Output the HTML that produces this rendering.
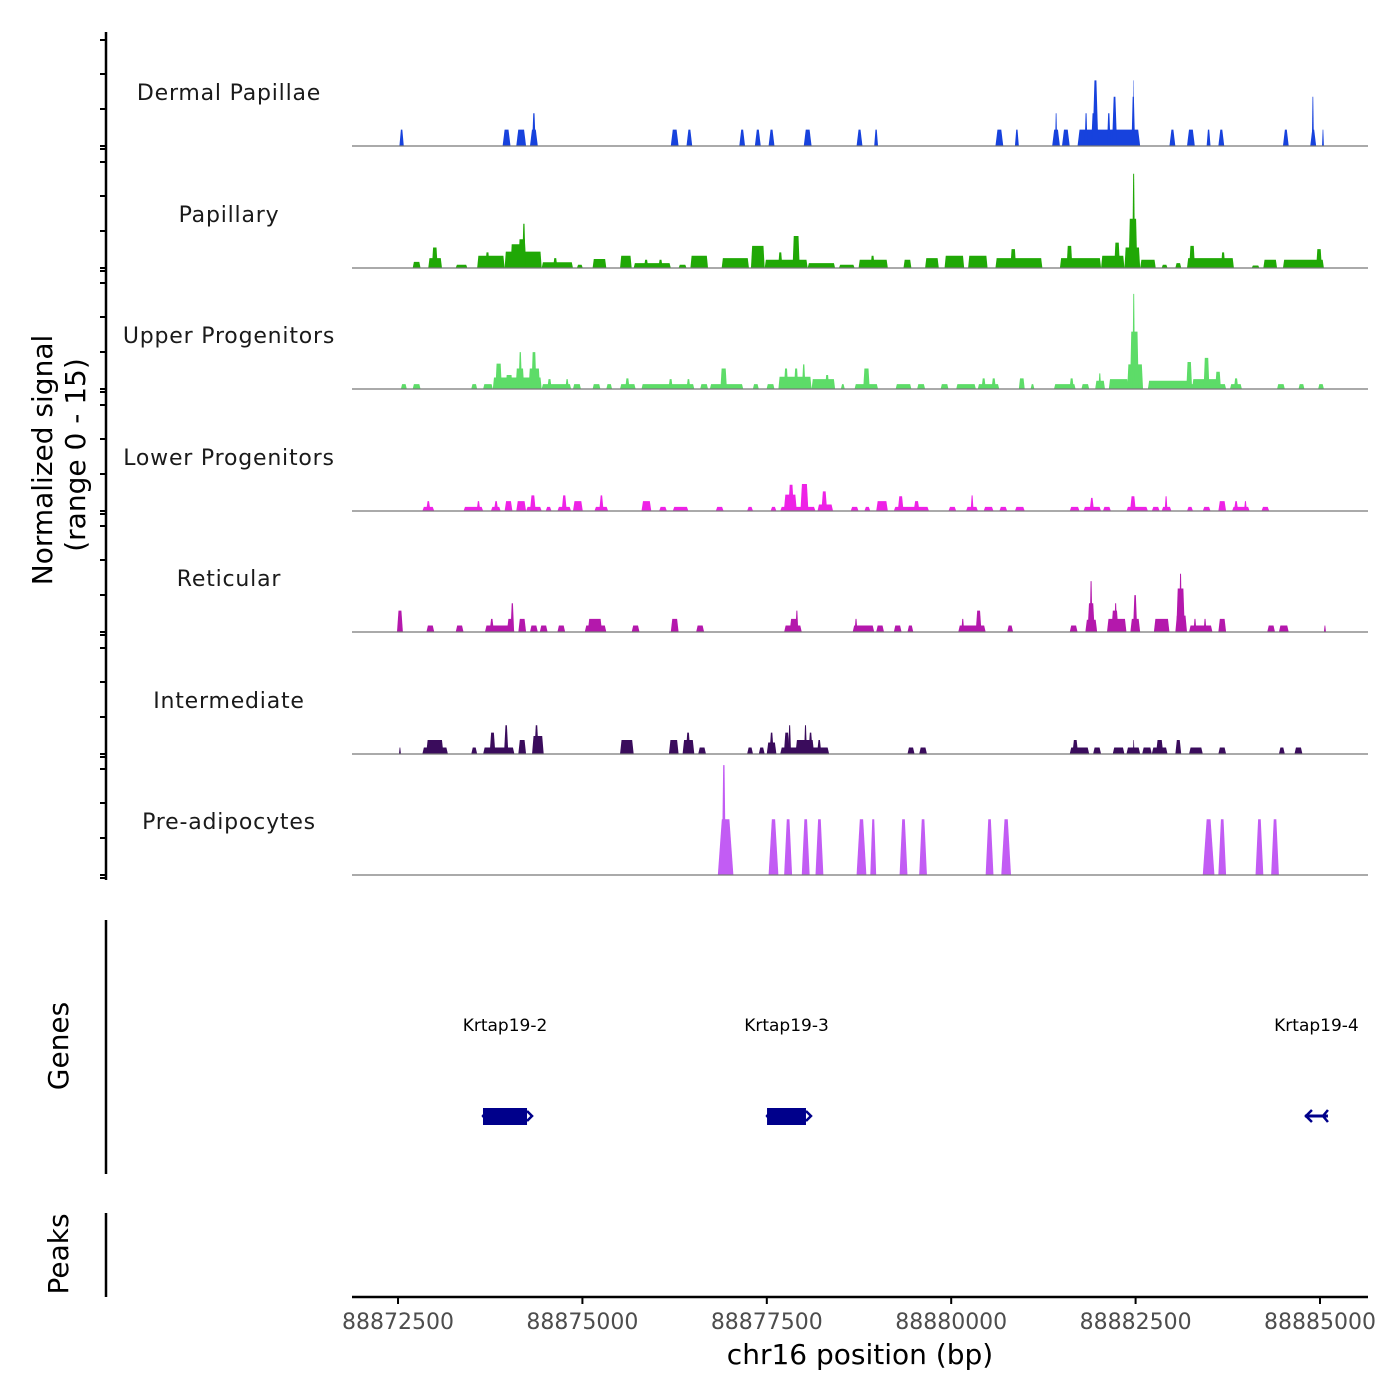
<!DOCTYPE html>
<html><head><meta charset="utf-8"><style>
html,body{margin:0;padding:0;background:#fff;}
svg{display:block;font-family:"DejaVu Sans","Liberation Sans",sans-serif;}
</style></head><body>
<svg id="chart" width="1400" height="1400" viewBox="0 0 1400 1400"></svg>
<script>
// ---- data (genomic positions in bp, heights in normalized signal) ----
const trackNames = ["Dermal Papillae","Papillary","Upper Progenitors","Lower Progenitors","Reticular","Intermediate","Pre-adipocytes"];
const trackColors = ["#1742dd","#20a806","#5ddc68","#ee22e6","#b418ac","#3a0c5c","#c25cf4"];
const xTicks = [88872500,88875000,88877500,88880000,88882500,88885000];
const xTickLabels = ["88872500","88875000","88877500","88880000","88882500","88885000"];
const geneNames = ["Krtap19-2","Krtap19-3","Krtap19-4"];
const geneStarts = [88873652,88877503,88884796];
const geneEnds = [88874249,88878031,88885108];

const dermalPeaks = [[88872519,88872578,2],[88873918,88874025,2],[88874103,88874236,2],[88874289,88874395,2],[88874317,88874367,4],[88876198,88876304,2],[88876411,88876489,2],[88877127,88877205,2],[88877338,88877418,2],[88877524,88877604,2],[88878001,88878107,2],[88878717,88878797,2],[88878956,88879008,2],[88880600,88880706,2],[88880864,88880917,2],[88881369,88881474,2],[88881408,88881437,4],[88881502,88881607,2],[88881713,88882562,2],[88881809,88881848,4],[88881897,88881956,4],[88881916,88881995,8],[88882112,88882161,4],[88882180,88882249,6],[88882444,88882493,6],[88882464,88882479,8],[88882959,88883039,2],[88883197,88883303,2],[88883463,88883516,2],[88883622,88883702,2],[88884498,88884576,2],[88884868,88884948,2],[88884889,88884918,6],[88885028,88885053,2]];
const papillaryPeaks = [[88872699,88872805,0.75],[88872910,88873096,1.2],[88872959,88873038,2.5],[88873282,88873440,0.4],[88873573,88873945,1.5],[88873683,88873742,1.9],[88873945,88874448,2.0],[88874025,88874236,2.9],[88874131,88874236,3.5],[88874182,88874231,5.4],[88874448,88874872,0.7],[88874602,88874661,1.2],[88874925,88875005,0.4],[88875138,88875324,1.1],[88875510,88875668,1.5],[88875695,88876198,0.6],[88875834,88875893,1],[88876030,88876088,1],[88876304,88876411,0.4],[88876464,88876703,1.5],[88876888,88877258,1.2],[88877285,88877471,2.7],[88877471,88878054,1.0],[88877653,88877712,1.9],[88877849,88877946,3.9],[88878054,88878426,0.6],[88878478,88878690,0.4],[88878744,88879141,1.0],[88878905,88878963,1.5],[88879353,88879460,1.0],[88879646,88879832,1.2],[88879910,88880176,1.5],[88880229,88880493,1.5],[88880600,88881236,1.2],[88880802,88880880,2.3],[88881474,88882032,1.2],[88881564,88881643,2.7],[88882032,88882349,1.5],[88882210,88882288,3.1],[88882349,88882562,2.5],[88882405,88882523,6],[88882454,88882493,11.5],[88882562,88882773,1],[88882853,88882933,0.4],[88883039,88883119,0.6],[88883197,88883833,1.2],[88883227,88883305,2.7],[88883657,88883716,1.9],[88884074,88884179,0.3],[88884232,88884418,1],[88884498,88885053,1],[88884948,88885026,2.3]];
const upperPeaks = [[88872539,88872619,0.6],[88872699,88872805,0.6],[88873493,88873573,0.6],[88873654,88873785,0.6],[88873785,88874448,1.4],[88873820,88873908,3.1],[88873957,88874055,1.7],[88874094,88874211,2.5],[88874133,88874182,4.5],[88874270,88874426,2.5],[88874309,88874377,4.5],[88874448,88874847,0.6],[88874524,88874583,1.2],[88874768,88874817,1.2],[88874872,88874980,0.6],[88875138,88875244,0.6],[88875324,88875402,0.6],[88875510,88875721,0.6],[88875580,88875639,1.3],[88875801,88876517,0.6],[88876167,88876225,1.2],[88876411,88876464,1.2],[88876597,88876703,0.6],[88876728,88877180,0.6],[88876871,88876959,2.5],[88877311,88877391,0.6],[88877497,88877604,0.6],[88877657,88878107,1.5],[88877731,88877790,2.5],[88877868,88877927,2.5],[88877976,88878025,3],[88878107,88878426,1.2],[88878289,88878347,1.7],[88878504,88878557,0.6],[88878690,88879008,0.6],[88878807,88878895,2.5],[88879247,88879460,0.6],[88879538,88879646,0.6],[88879857,88879963,0.6],[88880068,88880334,0.6],[88880360,88880651,0.6],[88880411,88880469,1.3],[88880547,88880606,1.3],[88880917,88880997,1.3],[88881076,88881128,0.6],[88881394,88881686,0.6],[88881604,88881662,1.3],[88881766,88881871,0.6],[88881952,88882085,1.0],[88881995,88882034,1.9],[88882137,88882403,1.2],[88882386,88882601,3],[88882425,88882542,7],[88882456,88882493,11.6],[88882667,88883727,0.6],[88882667,88883266,1.0],[88882718,88882777,0.9],[88883188,88883266,3.3],[88883266,88883657,1.2],[88883422,88883501,3.8],[88883579,88883657,2.1],[88883780,88883941,0.6],[88883833,88883892,1.3],[88884418,88884523,0.6],[88884709,88884789,0.6],[88884975,88885053,0.6]];
const lowerPeaks = [[88872830,88872991,0.5],[88872881,88872940,1.2],[88873388,88873654,0.5],[88873566,88873615,1.2],[88873759,88873892,0.5],[88873800,88873859,1.2],[88873945,88874051,1.2],[88874103,88874236,1.2],[88874236,88874448,0.5],[88874289,88874367,1.9],[88874502,88874581,0.5],[88874661,88874847,0.5],[88874719,88874788,1.9],[88874872,88875005,1.2],[88875163,88875349,0.5],[88875228,88875287,1.9],[88875801,88875934,1.2],[88876040,88876145,0.5],[88876225,88876437,0.5],[88876808,88876914,0.5],[88877233,88877313,0.5],[88877551,88877630,0.5],[88877682,88878160,0.5],[88877731,88877907,2.0],[88877790,88877868,3.2],[88877956,88878064,3.3],[88878187,88878398,0.8],[88878240,88878318,2.4],[88878637,88878744,0.5],[88878823,88878903,0.5],[88878983,88879141,1.2],[88879222,88879699,0.5],[88879276,88879354,1.8],[88879491,88879570,1.2],[88879963,88880068,0.5],[88880201,88880362,0.5],[88880264,88880303,1.9],[88880440,88880573,0.5],[88880653,88880759,0.5],[88880864,88880997,0.5],[88881607,88881740,0.5],[88881793,88882032,0.5],[88881877,88881936,1.6],[88882057,88882165,0.5],[88882376,88882667,0.5],[88882425,88882503,1.8],[88882720,88882826,0.5],[88882853,88882986,0.5],[88882894,88882933,1.8],[88883197,88883278,0.5],[88883411,88883516,0.5],[88883622,88883727,1.2],[88883808,88884046,0.5],[88883833,88883892,1.2],[88883970,88884009,1.2],[88884207,88884312,0.5]];
const reticularPeaks = [[88872486,88872566,2.6],[88872885,88872991,0.8],[88873282,88873388,0.8],[88873679,88874078,0.8],[88873742,88873800,1.6],[88873976,88874055,1.6],[88874025,88874074,3.5],[88874131,88874236,1.6],[88874289,88874395,0.8],[88874422,88874528,0.8],[88874661,88874766,0.8],[88875032,88875324,0.8],[88875072,88875267,1.6],[88875668,88875774,0.8],[88876198,88876304,1.6],[88876542,88876650,0.8],[88877735,88877974,0.8],[88877809,88877927,1.6],[88877888,88877927,2.6],[88878664,88878956,0.8],[88878690,88878729,1.6],[88878983,88879089,0.8],[88879222,88879327,0.8],[88879407,88879486,0.8],[88880096,88880467,0.8],[88880137,88880176,1.6],[88880332,88880411,2.6],[88880759,88880839,0.8],[88881607,88881713,0.8],[88881819,88881979,1.5],[88881848,88881946,3.5],[88881877,88881916,6.2],[88882112,88882376,1.6],[88882171,88882268,2.6],[88882210,88882249,3.5],[88882429,88882562,1.6],[88882464,88882523,4.5],[88882748,88882959,1.6],[88883039,88883197,2],[88883051,88883168,5.3],[88883090,88883129,7.1],[88883225,88883542,0.8],[88883285,88883325,1.6],[88883422,88883461,1.6],[88883622,88883727,1.6],[88884285,88884390,0.8],[88884443,88884576,0.8],[88885053,88885081,0.8]];
const intermediatePeaks = [[88872513,88872539,0.8],[88872830,88873176,0.8],[88872881,88873116,1.7],[88873493,88873573,0.8],[88873654,88874078,0.8],[88873742,88873820,2.6],[88873937,88873996,3.5],[88874131,88874236,1.7],[88874317,88874475,2.2],[88874348,88874407,3.5],[88875510,88875695,1.7],[88876173,88876304,1.7],[88876358,88876517,1.7],[88876401,88876464,2.6],[88876570,88876675,0.8],[88877233,88877313,0.8],[88877391,88877471,0.8],[88877499,88877630,1.4],[88877536,88877594,2.6],[88877682,88878345,0.8],[88877731,88877809,2.6],[88877790,88877829,3.5],[88877888,88878142,1.7],[88878005,88878044,3.5],[88878064,88878122,2.6],[88878181,88878240,1.7],[88879407,88879503,0.8],[88879566,88879671,0.8],[88881607,88881871,0.8],[88881643,88881721,1.7],[88881924,88882032,0.8],[88882190,88882349,0.8],[88882376,88882562,0.8],[88882464,88882484,1.7],[88882589,88882720,0.8],[88882720,88882933,0.8],[88882777,88882875,1.7],[88883039,88883119,1.7],[88883225,88883411,0.8],[88883622,88883727,0.8],[88884443,88884523,0.8],[88884654,88884762,0.8]];
const preadipPeaks = [[88876836,88877047,6.8],[88876890,88876945,13.4],[88877524,88877657,6.8],[88877735,88877843,6.8],[88877974,88878081,6.8],[88878160,88878267,6.8],[88878717,88878850,6.8],[88878903,88878983,6.8],[88879300,88879407,6.8],[88879566,88879671,6.8],[88880467,88880573,6.8],[88880679,88880811,6.8],[88883411,88883569,6.8],[88883622,88883727,6.8],[88884126,88884232,6.8],[88884338,88884443,6.8]];
const allPeaks = [dermalPeaks,papillaryPeaks,upperPeaks,lowerPeaks,reticularPeaks,intermediatePeaks,preadipPeaks];

// ---- scales ----
const X0 = 352, X1 = 1368;
const DOM0 = 88871876, DOM1 = 88885651;
function xs(bp){ return X0 + (bp - DOM0) / (DOM1 - DOM0) * (X1 - X0); }
const PX_PER_UNIT = 8.2;
function ys(base, v){ return base - v * PX_PER_UNIT; }
const baselines = [146,268,389,511,632,754,875];
const slopes = [2,1.2,1.2,1.5,1.5,1.5,4];

const NS = "http://www.w3.org/2000/svg";
const svg = document.getElementById("chart");
function mk(tag, attrs, parent){
  const e = document.createElementNS(NS, tag);
  for (const k in attrs) e.setAttribute(k, attrs[k]);
  (parent || svg).appendChild(e);
  return e;
}

// left y axis (signal)
const yAxis = mk("g", {});


mk("line", {x1:106,y1:32,x2:106,y2:880,stroke:"#000","stroke-width":2.5}, yAxis);
for (const b of baselines) {
  for (const dy of [3, 0, -37, -72, -106]) {
    mk("line", {x1:100,y1:b+dy,x2:106,y2:b+dy,stroke:"#000","stroke-width":2}, yAxis);
  }
}
const yt = mk("text", {x:0,y:0,"font-size":28,"text-anchor":"middle",fill:"#000",transform:"translate(52,460) rotate(-90)"});
yt.textContent = "Normalized signal";


const yt2 = mk("text", {x:0,y:0,"font-size":28,"text-anchor":"middle",fill:"#000",transform:"translate(85,455) rotate(-90)"});
yt2.textContent = "(range 0 - 15)";



// tracks
for (let t = 0; t < trackNames.length; t++) {
  const g = mk("g", {});
  
  
  const base = baselines[t];
  const lbl = mk("text", {x:229,y:base-46,"font-size":22,"text-anchor":"middle",fill:"#1a1a1a","letter-spacing":"0.8"}, g);
  lbl.textContent = trackNames[t];
  
  
  for (const p of allPeaks[t]) {
    const a = xs(p[0]), b = xs(p[1]);
    const s = Math.min(slopes[t], (b - a) / 3);
    const top = ys(base, p[2]);
    const poly = mk("polygon", {points:`${a},${base} ${a+s},${top} ${b-s},${top} ${b},${base}`, fill:trackColors[t]}, g);
    
    
  }
  const bl = mk("line", {x1:X0,y1:base,x2:X1,y2:base,stroke:"#777","stroke-width":1.3}, g);
  
  
}

// genes panel
const gAx = mk("line", {x1:106,y1:920,x2:106,y2:1174,stroke:"#000","stroke-width":2.5});


const gt = mk("text", {x:0,y:0,"font-size":28,"text-anchor":"middle",fill:"#000",transform:"translate(68,1046) rotate(-90)"});
gt.textContent = "Genes";


for (let i = 0; i < geneNames.length; i++) {
  const g = mk("g", {});
  
  
  const a = xs(geneStarts[i]), b = xs(geneEnds[i]);
  const tx = mk("text", {x:(a+b)/2,y:1031,"font-size":17,"text-anchor":"middle",fill:"#000"}, g);
  tx.textContent = geneNames[i];
  
  
  if (i < 2) {
    mk("rect", {x:a,y:1108,width:b-a,height:17,fill:"#00008b"}, g);
    mk("path", {d:`M${a+4},1111 l-4,5 l4,5 M${b},1111 l5,5 l-5,5`,stroke:"#00008b","stroke-width":2.5,fill:"none"}, g);
  } else {
    mk("line", {x1:a,y1:1116,x2:b,y2:1116,stroke:"#00008b","stroke-width":3}, g);
    mk("path", {d:`M${a+7},1110 l-6,6 l6,6 M${b},1110 l-5,6 l5,6`,stroke:"#00008b","stroke-width":2.5,fill:"none"}, g);
  }
}

// peaks panel
const pAx = mk("line", {x1:106,y1:1213,x2:106,y2:1297,stroke:"#000","stroke-width":2.5});


const pt = mk("text", {x:0,y:0,"font-size":28,"text-anchor":"middle",fill:"#000",transform:"translate(68,1254) rotate(-90)"});
pt.textContent = "Peaks";



// x axis
const xg = mk("g", {});


mk("line", {x1:X0,y1:1297,x2:X1,y2:1297,stroke:"#000","stroke-width":2.5}, xg);
for (let i = 0; i < xTicks.length; i++) {
  const x = xs(xTicks[i]);
  mk("line", {x1:x,y1:1297,x2:x,y2:1304,stroke:"#000","stroke-width":2}, xg);
  const l = mk("text", {x:x,y:1329,"font-size":22,"text-anchor":"middle",fill:"#4d4d4d"}, xg);
  l.textContent = xTickLabels[i];
  
  
}
const xt = mk("text", {x:860,y:1364,"font-size":28,"text-anchor":"middle",fill:"#000"});
xt.textContent = "chr16 position (bp)";


</script>
</body></html>
